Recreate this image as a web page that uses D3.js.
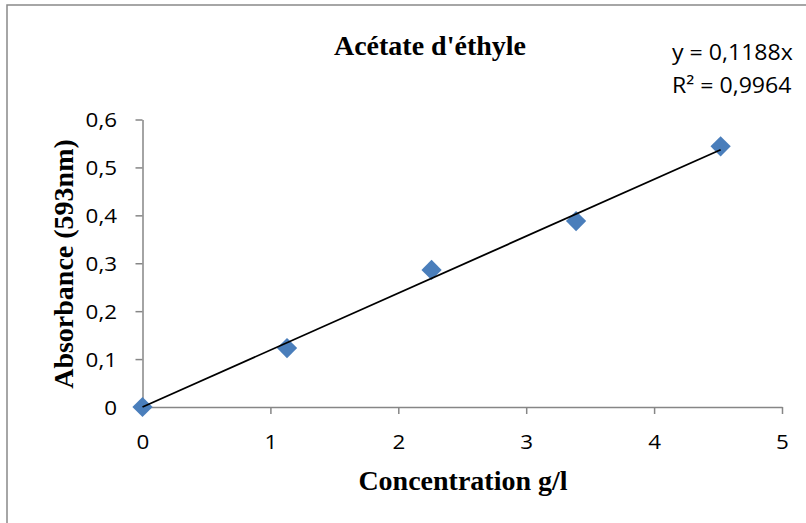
<!DOCTYPE html>
<html>
<head>
<meta charset="utf-8">
<script src="https://cdn.jsdelivr.net/npm/d3@7"></script>
<style>
  html, body { margin: 0; padding: 0; background: #fff; }
  svg { display: block; }
</style>
</head>
<body>
<div id="chart"></div>
<script>
const concentration = [0, 1.13, 2.26, 3.39, 4.52];
const absorbance = [0, 0.123, 0.286, 0.388, 0.544];
const slope = 0.1188;
const xTicks = [0, 1, 2, 3, 4, 5];
const yTicks = [0, 0.1, 0.2, 0.3, 0.4, 0.5, 0.6];
const equationLines = ['y = 0,1188x', 'R² = 0,9964'];

const width = 806;
const height = 523;
const axisColor = '#868686';
const pointColor = '#4a7ebb';
const labelFont = '"Open Sans", sans-serif';
const titleFont = '"Liberation Serif", "Times New Roman", serif';
const stretch = 1.12; // sans labels are drawn a bit wide in the original

const svg = d3.select('#chart')
  .append('svg')
  .attr('width', width)
  .attr('height', height);

// outer chart frame (right/bottom edges fall outside the picture)
svg.append('rect')
  .attr('x', 7)
  .attr('y', 5)
  .attr('width', 820)
  .attr('height', 540)
  .attr('fill', '#fff')
  .attr('stroke', '#898989')
  .attr('stroke-width', 1.5);

const x = d3.scaleLinear().domain([0, 5]).range([142.5, 782]);
const y = d3.scaleLinear().domain([0, 0.6]).range([407, 119.5]);

const fmt = d => d === 0 ? '0' : d.toFixed(1).replace('.', ',');

// Y axis
const gy = svg.append('g')
  .attr('transform', `translate(${x(0)},0)`)
  .call(d3.axisLeft(y).tickValues(yTicks).tickFormat(fmt).tickSize(7).tickSizeOuter(0));

gy.select('.domain').attr('stroke', axisColor).attr('stroke-width', 1.5);
gy.selectAll('.tick line').attr('stroke', axisColor).attr('stroke-width', 1.5);
gy.selectAll('.tick text')
  .attr('font-family', labelFont)
  .attr('font-size', 20)
  .attr('fill', '#000')
  .attr('x', -25.5 / stretch)
  .attr('dy', '0.36em')
  .attr('transform', `scale(${stretch},1)`);

// X axis
const gx = svg.append('g')
  .attr('transform', `translate(0,${y(0)})`)
  .call(d3.axisBottom(x).tickValues(xTicks).tickFormat(d => String(d)).tickSize(7).tickSizeOuter(0));

gx.select('.domain').attr('stroke', axisColor).attr('stroke-width', 1.5);
gx.selectAll('.tick line').attr('stroke', axisColor).attr('stroke-width', 1.5);
gx.selectAll('.tick text')
  .attr('font-family', labelFont)
  .attr('font-size', 20)
  .attr('fill', '#000')
  .attr('x', 0)
  .attr('y', 35)
  .attr('dy', '0.36em')
  .attr('transform', `scale(${stretch},1)`);

// Points (diamonds)
const xMax = d3.max(concentration);
const diamond = d3.symbol().type(d3.symbolSquare).size(205);
svg.append('g')
  .selectAll('path')
  .data(concentration.map((c, i) => [c, absorbance[i]]))
  .join('path')
  .attr('d', diamond)
  .attr('transform', d => `translate(${x(d[0])},${y(d[1])}) rotate(45)`)
  .attr('fill', pointColor);

// Trendline y = slope * x over the data range, drawn over the markers
svg.append('line')
  .attr('x1', x(0))
  .attr('y1', y(0))
  .attr('x2', x(xMax))
  .attr('y2', y(slope * xMax))
  .attr('stroke', '#000')
  .attr('stroke-width', 1.8);

// Titles
svg.append('text')
  .attr('x', 430)
  .attr('y', 55)
  .attr('text-anchor', 'middle')
  .attr('font-family', titleFont)
  .attr('font-weight', 'bold')
  .attr('font-size', 28)
  .text("Acétate d'éthyle");

svg.append('text')
  .attr('x', 463)
  .attr('y', 490)
  .attr('text-anchor', 'middle')
  .attr('font-family', titleFont)
  .attr('font-weight', 'bold')
  .attr('font-size', 28)
  .text('Concentration g/l');

svg.append('text')
  .attr('transform', 'translate(73,264) rotate(-90)')
  .attr('text-anchor', 'middle')
  .attr('font-family', titleFont)
  .attr('font-weight', 'bold')
  .attr('font-size', 28)
  .text('Absorbance (593nm)');

// Equation label
svg.append('g')
  .selectAll('text')
  .data(equationLines)
  .join('text')
  .attr('transform', (d, i) => `translate(672,${60 + i * 33}) scale(1.1,1)`)
  .attr('font-family', labelFont)
  .attr('font-size', 21)
  .attr('fill', '#000')
  .text(d => d);
</script>
</body>
</html>
